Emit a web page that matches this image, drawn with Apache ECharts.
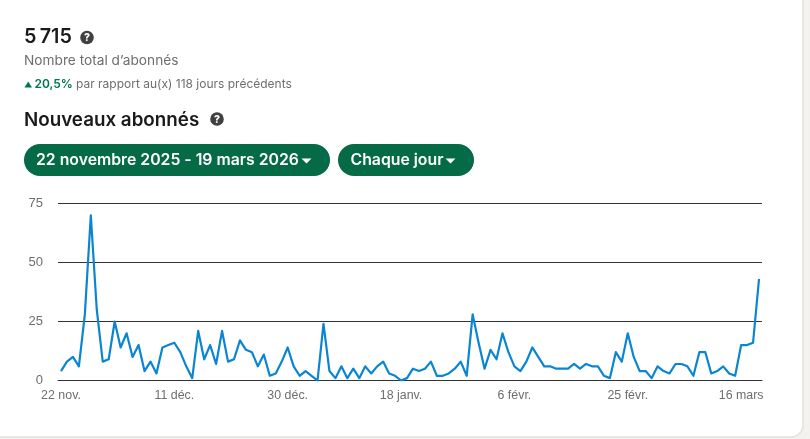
<!DOCTYPE html>
<html><head><meta charset="utf-8">
<style>html,body{margin:0;padding:0;background:#f4f2ee;overflow:hidden}#c{width:810px;height:439px}</style>
<script src="https://cdn.jsdelivr.net/npm/echarts@6/dist/echarts.min.js"></script>
</head><body><div id="c"></div>
<script>
const startLabels = ['22 nov.', '11 déc.', '30 déc.', '18 janv.', '6 févr.', '25 févr.', '16 mars'];
const labelStep = 19;
const values = [4,8,10,6,28,70,30,8,9,25,14,20,10,15,4,8,3,14,15,16,12,6,1,21,9,15,7,21,8,9,17,13,12,6,11,2,3,8,14,6,2,4,2,0,24,4,1,6,1,5,1,6,3,6,8,3,2,0,1,5,4,5,8,2,2,3,5,8,2,28,16,5,13,9,20,12,6,4,8,14,10,6,6,5,5,5,7,5,7,6,6,2,1,12,8,20,10,4,4,1,6,4,3,7,7,6,2,12,12,3,4,6,3,2,15,15,16,43];
const yTicks = [0, 25, 50, 75];
const categories = values.map((_, i) => i % labelStep === 0 ? startLabels[i / labelStep] : '');
const totalValue = '5\u2009715';
const totalLabel = 'Nombre total d’abonnés';
const deltaValue = '20,5%';
const deltaText = 'par rapport au(x) 118 jours précédents';
const sectionTitle = 'Nouveaux abonnés';
const rangeButton = '22 novembre 2025 - 19 mars 2026';
const stepButton = 'Chaque jour';

const FONT = 'Inter, "Liberation Sans", sans-serif';
const AXISFONT = '"Liberation Sans", Arial, sans-serif';
const GREEN = '#01754f';
const btnGreen = '#056b47';
const txt = (x, y, text, size, weight, fill, family) => ({type:'text', x, y, silent:true,
  style:{text, fontSize:size, fontWeight:weight, fill, fontFamily:family||FONT, textVerticalAlign:'middle'}});
const help = (cx, cy) => [
  {type:'circle', shape:{cx, cy, r:6.8}, style:{fill:'#404040'}, silent:true},
  {type:'text', x:cx, y:cy+0.5, silent:true, style:{text:'?', fontSize:10.5, fontWeight:800, fill:'#fff', fontFamily:FONT, textAlign:'center', textVerticalAlign:'middle'}}
];
const caret = (x, y) => ({type:'polygon', silent:true, shape:{points:[[x,y],[x+10,y],[x+5,y+5]]}, style:{fill:'#fff'}});

const chart = echarts.init(document.getElementById('c'), null, {renderer:'canvas'});
chart.setOption({
  animation:false,
  backgroundColor:'#f4f2ee',
  grid:{left:58, right:48, top:203.5, height:177, containLabel:false},
  xAxis:{type:'category', data:categories, boundaryGap:true,
    axisLine:{show:true, lineStyle:{color:'#333', width:1}},
    axisTick:{show:false},
    axisLabel:{interval:labelStep-1, color:'#6e6e6e', fontSize:12.4, fontFamily:AXISFONT, margin:9, hideOverlap:false}},
  yAxis:{type:'value', min:yTicks[0], max:yTicks[3], interval:yTicks[1],
    axisLine:{show:false}, axisTick:{show:false},
    splitLine:{lineStyle:{color:'#333', width:1}},
    axisLabel:{color:'#6e6e6e', fontSize:13, fontFamily:AXISFONT, margin:15, padding:[4,0,0,0]}},
  series:[{type:'line', data:values, symbol:'none', smooth:false, z:5, lineStyle:{color:'#0a85d1', width:2.2, join:'round'}}],
  graphic:{elements:[
    {type:'rect', z:-10, silent:true, shape:{x:-20, y:-20, width:823, height:457, r:12}, style:{fill:'#fff', stroke:'#e3e1dd', lineWidth:1.5}},
    txt(24, 37, totalValue, 19.8, 600, '#1a1a1a'),
    ...help(87, 37.5),
    txt(24, 60.5, totalLabel, 13.7, 400, '#6e6e6e'),
    {type:'polygon', silent:true, shape:{points:[[24.5,87.5],[32,87.5],[28.25,81.5]]}, style:{fill:GREEN}},
    txt(34.5, 84, deltaValue, 12, 600, GREEN),
    txt(76, 84, deltaText, 12, 400, '#6e6e6e'),
    txt(24, 120, sectionTitle, 18.8, 600, '#1a1a1a'),
    ...help(217, 119),
    {type:'rect', silent:true, shape:{x:24, y:144, width:306, height:32, r:16}, style:{fill:btnGreen}},
    txt(36, 160.5, rangeButton, 15.8, 600, '#fff'),
    caret(301.5, 158.5),
    {type:'rect', silent:true, shape:{x:338, y:144, width:136, height:32, r:16}, style:{fill:btnGreen}},
    txt(350.5, 160.5, stepButton, 15.8, 600, '#fff'),
    caret(445.5, 158.5)
  ]}
});
</script></body></html>
